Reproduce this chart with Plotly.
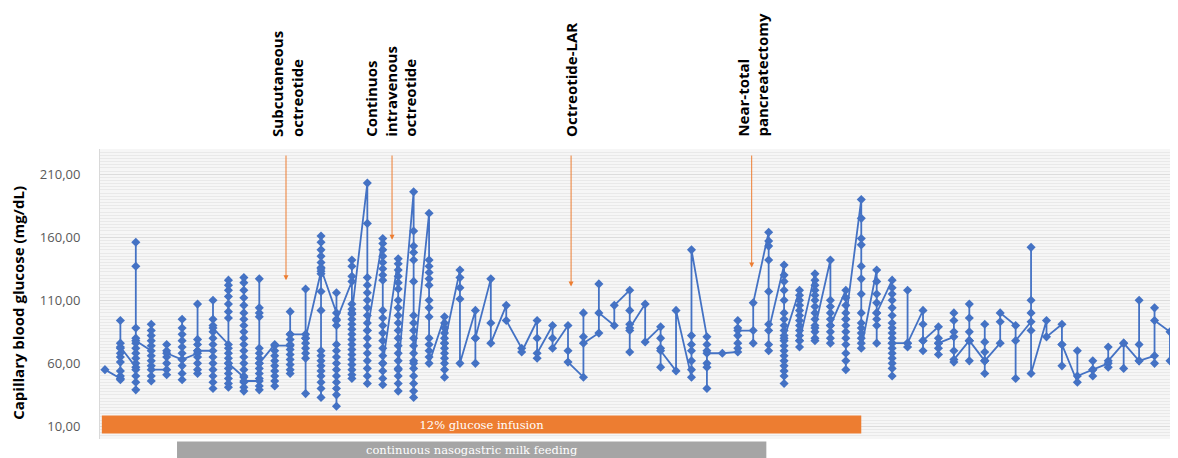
import plotly.graph_objects as go

# ---- Capillary blood glucose readings (mg/dL), one inner list per day, in time order ----
days_before_octreotide = [
    [55],
    [48, 47, 50, 54, 61, 65, 68, 72, 76, 94, 73],
    [57, 39, 45, 50, 55, 60, 64, 68, 72, 76, 80, 88, 137, 156, 78],
    [70, 91, 86, 82, 78, 74, 66, 62, 58, 50, 46, 55],
    [55, 75, 70, 65, 60, 51, 68],
    [63, 95, 88, 83, 78, 73, 68, 58, 52, 47, 63],
    [68, 107, 79, 75, 70, 65, 60, 55, 52, 70],
    [70, 110, 95, 90, 85, 80, 75, 65, 60, 55, 50, 45, 40, 88],
    [75, 126, 122, 118, 113, 107, 101, 96, 72, 68, 64, 60, 56, 52, 48, 44, 41, 60],
    [49, 128, 124, 118, 112, 106, 100, 95, 90, 85, 80, 75, 70, 65, 60, 55, 50, 45, 41, 38, 46],
    [46, 39, 42, 127, 104, 100, 97, 72, 68, 64, 60, 56, 52, 48, 60],
    [75, 70, 66, 62, 58, 54, 50, 46, 42, 74],
]
days_subcutaneous = [
    [74, 101, 83, 79, 75, 71, 67, 63, 59, 55, 52, 83],
    [83, 119, 80, 76, 72, 68, 64, 36, 80],
    [133, 161, 156, 150, 145, 140, 136, 131, 117, 102, 70, 66, 62, 58, 54, 50, 45, 40, 33, 135],
    [100, 116, 95, 90, 75, 70, 65, 60, 55, 50, 45, 40, 35, 26, 94],
    [125, 142, 137, 129, 107, 103, 99, 95, 91, 87, 83, 79, 75, 71, 67, 63, 59, 55, 51, 48, 100],
    [203, 171, 128, 122, 116, 110, 104, 98, 92, 86, 80, 74, 68, 62, 56, 50, 44, 86],
    [159, 155, 150, 145, 140, 135, 130, 126, 102, 96, 90, 84, 78, 72, 66, 60, 54, 48, 43, 60],
]
days_intravenous = [
    [143, 139, 134, 129, 124, 119, 110, 104, 98, 92, 86, 80, 74, 68, 62, 56, 50, 44, 38, 55],
    [196, 165, 153, 148, 142, 125, 98, 92, 86, 80, 74, 68, 62, 56, 50, 44, 38, 33, 60],
    [179, 142, 137, 132, 127, 122, 110, 104, 97, 80, 75, 70, 65, 60],
    [97, 92, 88, 84, 80, 76, 72, 68, 64, 60, 55, 49, 76],
    [134, 128, 120, 111, 60],
    [102, 80, 60, 80],
    [127, 92, 76],
    [106, 94],
    [72, 69],
    [94, 80, 64, 68],
    [90, 80, 72],
]
days_octreotide_lar = [
    [90, 70, 61],
    [49, 100, 81, 76],
    [84, 123, 100],
    [90, 106],
    [118, 102, 91, 86, 69, 88],
    [107, 77],
    [89, 80, 72, 57, 70],
    [54, 102],
    [49, 55, 62, 70, 75, 82, 150],
    [81, 75, 70, 60, 57, 40, 68],
    [68],
    [69, 94, 88, 82, 76, 72, 86],
]
days_after_surgery = [
    [86, 76, 108],
    [164, 157, 153, 142, 117, 91, 75, 70, 86],
    [138, 130, 125, 118, 110, 100, 95, 90, 86, 82, 78, 74, 70, 66, 62, 58, 54, 50, 44, 80],
    [118, 114, 110, 106, 102, 98, 94, 90, 86, 82, 78, 73, 78],
    [131, 126, 122, 118, 114, 110, 105, 100, 95, 90, 85, 80, 78, 88],
    [142, 110, 105, 100, 95, 90, 85, 80, 76, 90],
    [118, 112, 106, 100, 95, 90, 85, 80, 75, 68, 62, 55, 95],
    [190, 175, 159, 154, 137, 127, 115, 100, 92, 88, 84, 80, 76, 72],
    [134, 125, 115, 108, 100, 95, 90, 76, 100],
    [126, 120, 115, 110, 104, 98, 92, 88, 84, 80, 76, 72, 68, 64, 60, 56, 50, 76],
    [76, 118, 73, 76],
    [102, 91, 78, 70, 78],
    [89, 80, 76, 72, 67, 76],
    [81, 100, 94, 85, 70, 61, 63],
    [78, 107, 96, 85, 78, 62, 78],
    [62, 91, 77, 69, 62, 52, 62],
    [76, 93, 100],
    [90, 48, 78],
    [93, 152, 110, 100, 86, 52],
    [94, 81],
    [91, 75, 58, 75],
    [45, 70, 50],
    [55, 62, 50, 55],
    [60, 73, 57, 62],
    [76, 56, 76],
    [62, 110, 75, 62],
    [66, 60, 104, 94],
    [85, 62],
]

# ---- Events (day index, glucose level at arrow tip) ----
event_labels = ["Subcutaneous<br>octreotide", "Continuos<br>intravenous<br>octreotide",
                "Octreotide-LAR", "Near-total<br>pancreatectomy"]
event_days = [11.73, 18.6, 30.2, 41.9]
event_tip_glucose = [126, 158, 121, 136]
event_label_days = [11.8, 18.5, 30.2, 42.0]

# ---- Treatment periods (start day, end day) ----
period_labels = ["12% glucose infusion", "continuous nasogastric milk feeding"]
period_start = [-0.2, 4.67]
period_end = [49.0, 42.85]

ytick_vals = [10, 60, 110, 160, 210]
y_title = "Capillary blood glucose (mg/dL)"

all_days = (days_before_octreotide + days_subcutaneous + days_intravenous
            + days_octreotide_lar + days_after_surgery)
xs, ys = [], []
for i, readings in enumerate(all_days):
    for v in readings:
        xs.append(i)
        ys.append(v)

BLUE = "#4472C4"
ORANGE = "#ED7D31"
GRAY = "#A5A5A5"

fig = go.Figure()
fig.add_trace(go.Scatter(
    x=xs, y=ys, mode="lines+markers",
    line=dict(color=BLUE, width=1.8),
    marker=dict(symbol="diamond", size=7, color=BLUE),
    showlegend=False, hoverinfo="skip",
))

# treatment bars
bar_rows = [(0.0193, 0.0814, ORANGE), (-0.0660, -0.0083, GRAY)]
for lab, s, e, (y0, y1, col) in zip(period_labels, period_start, period_end, bar_rows):
    fig.add_shape(type="rect", xref="x", yref="paper", x0=s, x1=e, y0=y0, y1=y1,
                  fillcolor=col, line=dict(width=0), layer="above",
                  label=dict(text=lab, font=dict(color="white", size=11.5, family="DejaVu Serif"),
                             textposition="middle center"))

# event arrows and labels
for lab, d, tip, ld in zip(event_labels, event_days, event_tip_glucose, event_label_days):
    fig.add_annotation(x=d, y=tip, xref="x", yref="y", ax=d, ay=226, axref="x", ayref="y",
                       text="", showarrow=True, arrowhead=2, arrowsize=1, arrowwidth=1,
                       arrowcolor=ORANGE)
    fig.add_annotation(x=ld, y=1.035, xref="x", yref="paper", text=lab, showarrow=False,
                       textangle=-90, xanchor="center", yanchor="bottom", align="left",
                       font=dict(family="Open Sans", size=15, color="black", weight="bold"))

# y-axis title
fig.add_annotation(x=-0.076, y=0.47, xref="paper", yref="paper", text=y_title,
                   showarrow=False, textangle=-90, xanchor="center", yanchor="middle",
                   font=dict(family="Open Sans", size=15, color="black", weight="bold"))

# page has an 8px body margin: figure is 8px smaller and offset accordingly
fig.update_layout(
    width=1170, height=450,
    margin=dict(l=92, r=0, t=141, b=19),
    paper_bgcolor="white", plot_bgcolor="#f6f6f6",
    separators=",.",
    font=dict(family="Open Sans"),
)
fig.update_xaxes(range=[-0.32, 69.52], showgrid=False, showticklabels=False, zeroline=False,
                 showline=False, ticks="")
fig.update_yaxes(range=[0, 230], tickvals=ytick_vals, tickformat=".2f",
                 tickfont=dict(size=13, color="#595959", family="Open Sans"),
                 ticklabelstandoff=16,
                 showgrid=True, gridcolor="#dcdcdc", gridwidth=1, zeroline=False,
                 minor=dict(dtick=2.5, tick0=0, showgrid=True, gridcolor="#e9e9e9", gridwidth=1),
                 showline=True, linecolor="#d9d9d9", linewidth=1)

fig.write_html("out.html")
